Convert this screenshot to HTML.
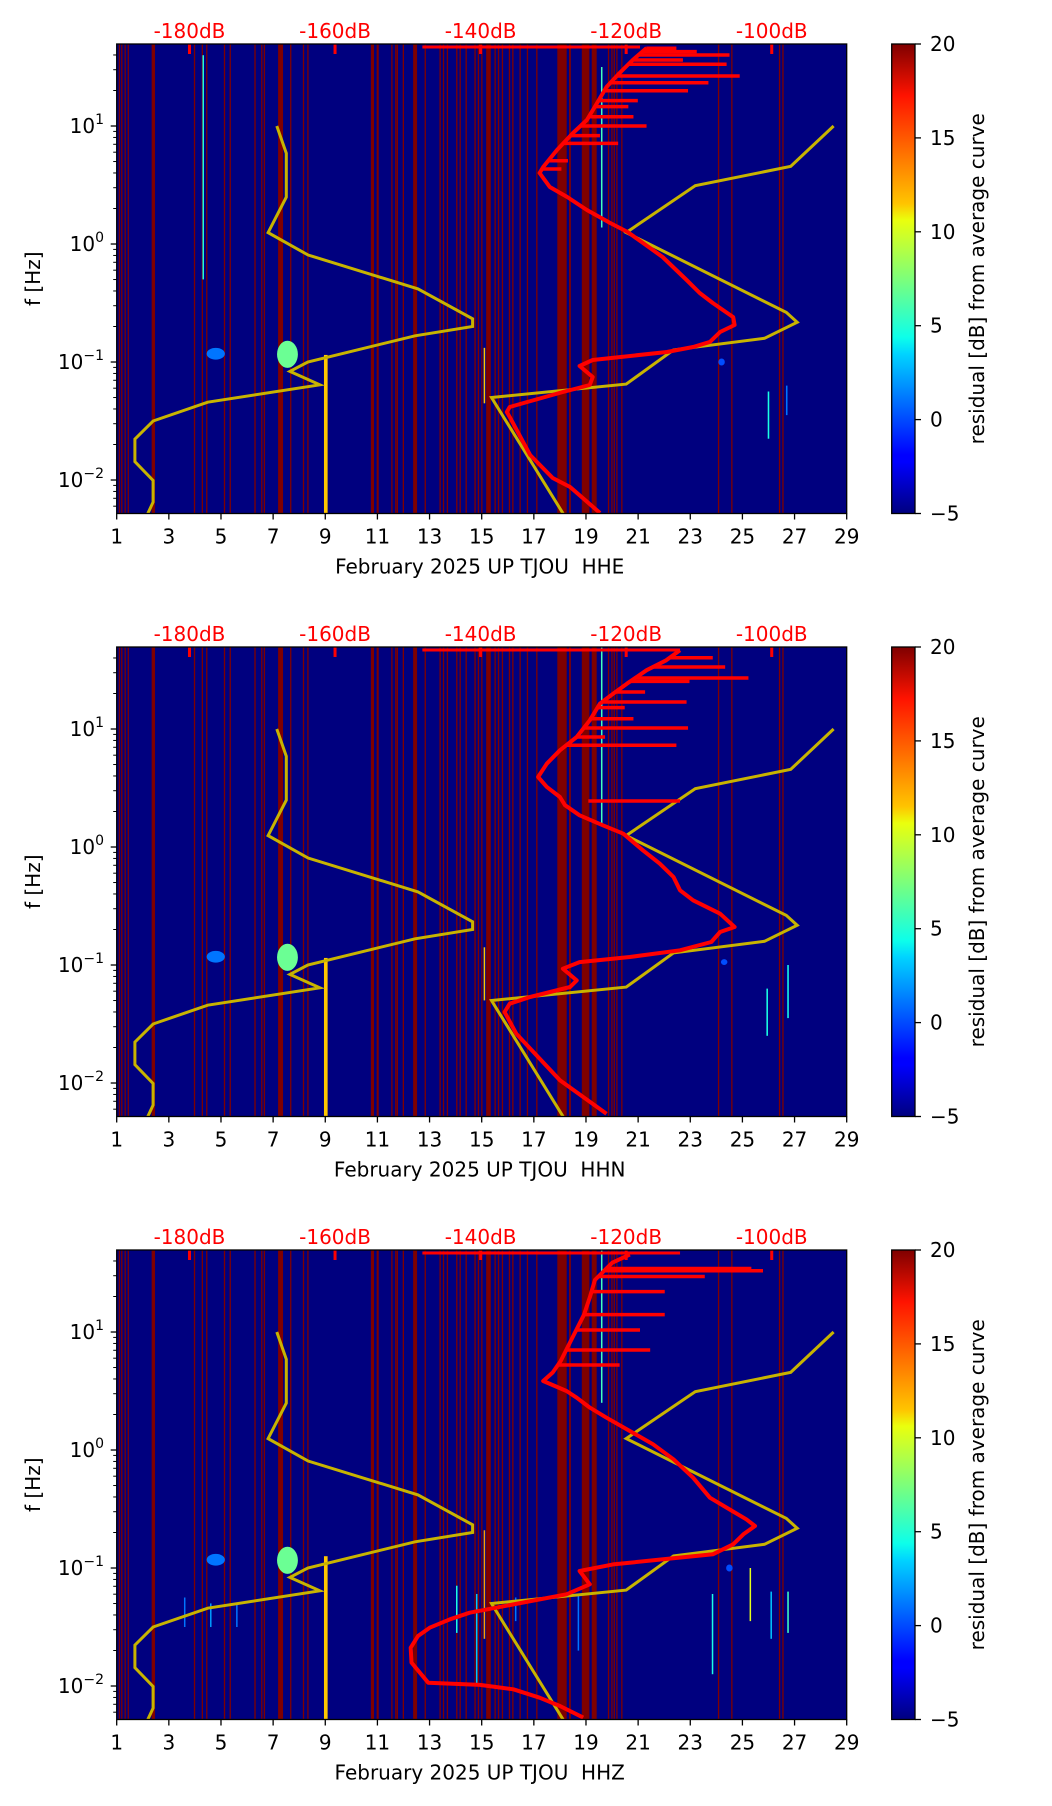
<!DOCTYPE html>
<html>
<head>
<meta charset="utf-8">
<style>
  html,body{margin:0;padding:0;background:#fff;}
  svg{display:block;font-family:"DejaVu Sans","Liberation Sans",sans-serif;}
</style>
</head>
<body>
<svg id="fig" width="1052" height="1806" viewBox="0 0 1052 1806" xmlns="http://www.w3.org/2000/svg">
  <defs>
    <linearGradient id="jet" x1="0" y1="1" x2="0" y2="0">
      <stop offset="0" stop-color="#00007f"/>
      <stop offset="0.11" stop-color="#0000ff"/>
      <stop offset="0.125" stop-color="#0000ff"/>
      <stop offset="0.34" stop-color="#00d4ff"/>
      <stop offset="0.375" stop-color="#0dffea"/>
      <stop offset="0.5" stop-color="#7dff7a"/>
      <stop offset="0.625" stop-color="#eaff0d"/>
      <stop offset="0.66" stop-color="#ffc400"/>
      <stop offset="0.89" stop-color="#ff1300"/>
      <stop offset="1" stop-color="#7f0000"/>
    </linearGradient>
  </defs>
</svg>
<script>
// ---------- data ----------
const panelTitles = ["February 2025 UP TJOU \u00a0HHE", "February 2025 UP TJOU \u00a0HHN", "February 2025 UP TJOU \u00a0HHZ"];
const dayTicks = [1,3,5,7,9,11,13,15,17,19,21,23,25,27,29];
const dbTicks = [-180,-160,-140,-120,-100];
const logfTicks = [1,0,-1,-2];
const cbarTicks = [20,15,10,5,0,-5];

const stripes = [[1.08,1.13],[1.17,1.22],[1.30,1.35],[1.42,1.47],[2.34,2.47],[3.96,4.01],[4.26,4.31],[4.43,4.48],
 [5.11,5.16],[5.33,5.38],[6.28,6.33],[6.54,6.59],[6.64,6.69],[7.19,7.38],[7.65,7.70],[8.14,8.19],[8.31,8.36],
 [10.75,10.87],[10.97,11.05],[11.53,11.58],[11.68,11.73],[11.74,11.79],[11.97,12.02],[12.37,12.52],[12.81,12.86],
 [13.38,13.43],[13.51,13.56],[13.66,13.71],[14.02,14.07],[14.15,14.20],[14.38,14.43],[14.72,14.77],[14.85,14.90],
 [14.98,15.03],[15.17,15.35],[15.49,15.54],[15.62,15.67],[15.77,15.82],[16.04,16.09],[16.17,16.22],[16.45,16.50],
 [16.73,16.78],[17.09,17.14],[17.90,18.26],[18.35,18.42],[18.84,19.13],[19.22,19.41],[19.84,19.89],[19.97,20.02],
 [20.06,20.11],[20.16,20.21],[20.35,20.40],[24.06,24.11],[24.57,24.62],[26.40,26.45],[26.53,26.58]];

const nlnmPeriod = [0.1,0.17,0.4,0.8,1.24,2.4,4.3,5.0,6.0,10,12,15.6,21.9,31.6,45,70,101,154,200];
const nlnmDb = [-168.0,-166.7,-166.7,-169.2,-163.7,-148.6,-141.1,-141.1,-149.0,-163.75,-166.2,-162.1,-177.5,-185.0,-187.5,-187.5,-185.0,-185.0,-185.85];
const nhnmPeriod = [0.1,0.22,0.32,0.8,3.8,4.6,6.3,7.9,15.4,20,200];
const nhnmDb = [-91.5,-97.4,-110.5,-120.0,-98.0,-96.5,-101.0,-113.5,-120.0,-138.5,-128.5];

const psdDb1 = [-117.2,-119.1,-120.9,-122.7,-124.0,-125.4,-127.3,-129.5,-131.4,-131.9,-130.5,-128.1,-125.4,-122.2,-119.8,-117.7,-115.0,-111.7,-109.9,-108.1,-105.3,-105.1,-107.1,-108.5,-110.8,-114.4,-120.9,-124.6,-126.4,-124.6,-125.0,-128.7,-133.6,-136.0,-136.4,-136.0,-133.2,-130.1,-127.7,-123.6];
const psdLf1 = [1.661,1.559,1.449,1.331,1.195,1.051,0.941,0.797,0.653,0.602,0.483,0.398,0.288,0.178,0.102,0.009,-0.110,-0.305,-0.415,-0.500,-0.619,-0.686,-0.746,-0.830,-0.873,-0.915,-0.958,-0.983,-1.034,-1.127,-1.195,-1.254,-1.339,-1.381,-1.424,-1.466,-1.788,-1.983,-2.059,-2.280];
const psdDb2 = [-112.6,-114.5,-117.2,-119.9,-121.8,-123.6,-125.0,-126.8,-129.1,-130.9,-132.1,-130.9,-129.1,-128.4,-126.4,-123.2,-120.4,-117.7,-115.4,-113.5,-112.6,-110.8,-107.1,-105.1,-107.1,-108.3,-112.6,-119.5,-126.4,-128.7,-126.8,-127.7,-133.2,-136.0,-136.7,-135.1,-129.1,-122.7];
const psdLf2 = [1.667,1.582,1.498,1.384,1.299,1.215,1.074,0.932,0.820,0.706,0.593,0.509,0.424,0.354,0.269,0.184,0.113,-0.028,-0.141,-0.254,-0.367,-0.452,-0.565,-0.678,-0.720,-0.805,-0.875,-0.932,-0.975,-1.031,-1.130,-1.186,-1.271,-1.328,-1.398,-1.582,-1.977,-2.260];
const psdDb3 = [-119.5,-121.9,-124.3,-125.0,-125.8,-127.4,-129.0,-130.1,-131.4,-128.2,-126.8,-125.0,-122.7,-119.5,-116.3,-113.5,-110.8,-108.5,-105.8,-103.5,-102.3,-103.9,-105.3,-108.1,-114.9,-121.8,-126.4,-125.0,-128.2,-135.5,-141.5,-144.2,-147.0,-148.6,-149.6,-149.5,-147.2,-140.1,-135.5,-131.9,-129.1,-125.9];
const psdLf3 = [1.656,1.587,1.441,1.293,1.147,0.950,0.754,0.657,0.585,0.500,0.443,0.359,0.274,0.161,0.048,-0.079,-0.235,-0.404,-0.503,-0.587,-0.644,-0.714,-0.799,-0.884,-0.926,-0.969,-1.025,-1.138,-1.223,-1.308,-1.379,-1.435,-1.506,-1.576,-1.675,-1.802,-1.972,-1.991,-2.028,-2.099,-2.169,-2.268];

const spikeDb1 = [-113.1,-110.3,-105.8,-112.2,-106.2,-104.4,-108.7,-111.5,-118.4,-119.7,-119.0,-117.2,-123.6,-121.1,-128.0,-128.9];
const spikeLf1 = [1.659,1.630,1.602,1.559,1.523,1.424,1.367,1.299,1.215,1.164,1.079,1.000,0.918,0.853,0.706,0.636];
const spikeDb2 = [-108.1,-106.4,-103.2,-111.3,-117.4,-111.7,-120.2,-119.0,-111.5,-122.9,-113.1,-125.2];
const spikeLf2 = [1.604,1.526,1.432,1.404,1.314,1.229,1.181,1.087,1.009,0.932,0.862,0.390];
const spikeDb3 = [-102.8,-101.2,-109.2,-114.7,-114.7,-118.1,-116.7,-120.9];
const spikeLf3 = [1.538,1.519,1.470,1.342,1.147,1.017,0.848,0.720];

const topLineStart = [-148,-148,-148];
const topLineEnd = [-118.1,-112.6,-112.6];

const featDay1 = [9.02,4.31,4.8,7.55,15.1,26.0,26.7,24.2,19.6];
const featW1   = [0.14,0.04,0.7,0.8,0.05,0.06,0.06,0.25,0.05];
const featTop1 = [-0.94,1.6,-0.88,-0.82,-0.88,-1.25,-1.2,-0.97,1.5];
const featBot1 = [-2.3,-0.3,-0.98,-1.05,-1.35,-1.65,-1.45,-1.03,0.14];
const featVal1 = [12,5,1,7,12,5,1,0,6];
const featDay2 = [9.02,4.8,7.55,15.1,25.95,26.75,19.6,24.3];
const featW2   = [0.14,0.7,0.8,0.05,0.06,0.06,0.05,0.25];
const featTop2 = [-0.94,-0.88,-0.82,-0.85,-1.2,-1.0,1.69,-0.95];
const featBot2 = [-2.3,-0.98,-1.05,-1.3,-1.6,-1.45,0.2,-1.0];
const featVal2 = [12,1,7,12,5,5,6,0];
const featDay3 = [9.02,4.8,7.55,15.1,14.04,14.8,16.3,18.7,19.6,23.85,25.3,26.1,26.75,3.6,4.6,5.6,24.5];
const featW3   = [0.14,0.7,0.8,0.05,0.05,0.04,0.05,0.04,0.05,0.05,0.05,0.05,0.06,0.04,0.04,0.04,0.25];
const featTop3 = [-0.9,-0.88,-0.82,-0.68,-1.15,-1.22,-1.25,-1.22,1.69,-1.22,-1.0,-1.2,-1.2,-1.25,-1.3,-1.3,-0.97];
const featBot3 = [-2.3,-0.98,-1.05,-1.6,-1.55,-2.0,-1.45,-1.7,0.4,-1.9,-1.45,-1.6,-1.55,-1.5,-1.5,-1.5,-1.03];
const featVal3 = [12,1,7,13,5,3,1,1,6,5,10,3,6,1,2,1,0];

// ---------- layout ----------
const svg = document.getElementById('fig');
const NS = 'http://www.w3.org/2000/svg';
const L = 116.7, R = 846.7, H = 469.5;
const tops = [44, 647, 1250];
const LF_TOP = 1.695, PX_DEC = 118;
const DB_MIN = -190, DB_SPAN = 100.3;
const CB_L = 891.7, CB_R = 915;
const xDay = d => L + (d - 1) * (R - L) / 28;
const xDb = db => L + (db - DB_MIN) * (R - L) / DB_SPAN;
const yF = (T, lf) => T + (LF_TOP - lf) * PX_DEC;

function mk(tag, attrs, parent) {
  const el = document.createElementNS(NS, tag);
  for (const k in attrs) el.setAttribute(k, attrs[k]);
  (parent || svg).appendChild(el);
  return el;
}
function jet(v) {
  const t = Math.max(0, Math.min(1, (v + 5) / 25));
  const c = (x) => Math.max(0, Math.min(1, x));
  const r = c(1.5 - Math.abs(4 * t - 3));
  const g = c(1.5 - Math.abs(4 * t - 2));
  const b = c(1.5 - Math.abs(4 * t - 1));
  return `rgb(${Math.round(r*255)},${Math.round(g*255)},${Math.round(b*255)})`;
}

const psdDbs = [psdDb1, psdDb2, psdDb3], psdLfs = [psdLf1, psdLf2, psdLf3];
const spDbs = [spikeDb1, spikeDb2, spikeDb3], spLfs = [spikeLf1, spikeLf2, spikeLf3];
const fDays = [featDay1, featDay2, featDay3], fWs = [featW1, featW2, featW3];
const fTops = [featTop1, featTop2, featTop3], fBots = [featBot1, featBot2, featBot3], fVals = [featVal1, featVal2, featVal3];

tops.forEach((T, p) => {
  const g = mk('g', {});
  
  

  const cp = mk('clipPath', { id: 'clip' + p });
  mk('rect', { x: L, y: T, width: R - L, height: H }, cp);

  const bg = mk('rect', { x: L, y: T, width: R - L, height: H, fill: '#00007f' }, g);
  
  

  const plot = mk('g', { 'clip-path': `url(#clip${p})` }, g);
  
  

  stripes.forEach(s => {
    const r = mk('rect', { x: xDay(s[0]), y: T, width: Math.max(1.2, xDay(s[1]) - xDay(s[0])), height: H, fill: '#7f0000' }, plot);
    
    
  });

  const fd = fDays[p];
  for (let i = 0; i < fd.length; i++) {
    const x0 = xDay(fd[i] - fWs[p][i] / 2), w = Math.max(1.5, xDay(fd[i] + fWs[p][i] / 2) - x0);
    const y0 = yF(T, fTops[p][i]), y1 = yF(T, fBots[p][i]);
    let e;
    if (fWs[p][i] < 0.2) {
      e = mk('rect', { x: x0, y: y0, width: w, height: y1 - y0, fill: jet(fVals[p][i]) }, plot);
    } else {
      e = mk('ellipse', { cx: x0 + w / 2, cy: (y0 + y1) / 2, rx: w / 2, ry: (y1 - y0) / 2, fill: jet(fVals[p][i]) }, plot);
    }
    
    
  }

  dbTicks.forEach(db => {
    const m = mk('rect', { x: xDb(db) - 1.5, y: T, width: 3, height: 10, fill: '#ff0000' }, plot);
    
    
  });

  const lnm = nlnmPeriod.map((P, i) => `${xDb(nlnmDb[i]).toFixed(1)},${yF(T, -Math.log10(P)).toFixed(1)}`).join(' ');
  const l1 = mk('polyline', { points: lnm, fill: 'none', stroke: '#c8b400', 'stroke-width': 3 }, plot);
  
  
  const hnm = nhnmPeriod.map((P, i) => `${xDb(nhnmDb[i]).toFixed(1)},${yF(T, -Math.log10(P)).toFixed(1)}`).join(' ');
  const l2 = mk('polyline', { points: hnm, fill: 'none', stroke: '#c8b400', 'stroke-width': 3 }, plot);
  
  

  const tl = mk('line', { x1: xDb(topLineStart[p]), x2: xDb(topLineEnd[p]), y1: T + 3, y2: T + 3, stroke: '#ff0000', 'stroke-width': 3 }, plot);
  
  

  const cdb = psdDbs[p], clf = psdLfs[p];
  function startDb(lf) {
    for (let i = 0; i < 9 && i < clf.length - 1; i++) {
      if (lf <= clf[i] && lf >= clf[i + 1]) {
        const t = (lf - clf[i]) / (clf[i + 1] - clf[i]);
        return cdb[i] + t * (cdb[i + 1] - cdb[i]);
      }
    }
    return cdb[0];
  }
  spDbs[p].forEach((db, i) => {
    const lf = spLfs[p][i];
    const y = yF(T, lf);
    const s = mk('line', { x1: xDb(startDb(lf)), x2: xDb(db), y1: y, y2: y, stroke: '#ff0000', 'stroke-width': 3.5 }, plot);
    
    
  });

  const pts = cdb.map((db, i) => `${xDb(db).toFixed(1)},${yF(T, clf[i]).toFixed(1)}`).join(' ');
  const pc = mk('polyline', { points: pts, fill: 'none', stroke: '#ff0000', 'stroke-width': 4, 'stroke-linejoin': 'round' }, plot);
  
  

  const fr = mk('rect', { x: L, y: T, width: R - L, height: H, fill: 'none', stroke: '#000', 'stroke-width': 1.3 }, g);
  
  

  const xt = mk('g', {}, g);
  
  
  dayTicks.forEach(d => {
    const x = xDay(d);
    mk('line', { x1: x, x2: x, y1: T + H, y2: T + H + 6, stroke: '#000', 'stroke-width': 1.3 }, xt);
    const t = mk('text', { x: x, y: T + H + 30, 'font-size': 20, 'text-anchor': 'middle', fill: '#000' }, xt);
    t.textContent = d;
    
    
  });
  const xl = mk('text', { x: (L + R) / 2 - 2, y: T + H + 60, 'font-size': 20, 'text-anchor': 'middle', fill: '#000' }, g);
  xl.textContent = panelTitles[p];
  
  

  dbTicks.forEach(db => {
    const t = mk('text', { x: xDb(db), y: T - 6, 'font-size': 20, 'text-anchor': 'middle', fill: '#ff0000' }, g);
    t.textContent = db + 'dB';
    
    
  });

  const yt = mk('g', {}, g);
  
  
  for (let dec = -3; dec <= 1; dec++) {
    for (let m = 1; m <= 9; m++) {
      const lf = dec + Math.log10(m);
      if (lf > LF_TOP + 1e-6 || lf < LF_TOP - H / PX_DEC - 1e-6) continue;
      const y = yF(T, lf);
      mk('line', { x1: L - (m === 1 ? 6 : 3.5), x2: L, y1: y, y2: y, stroke: '#000', 'stroke-width': m === 1 ? 1.3 : 1 }, yt);
    }
  }
  logfTicks.forEach(lf => {
    const y = yF(T, lf);
    const t = mk('text', { x: 104, y: y + 7, 'font-size': 20, 'text-anchor': 'end', fill: '#000' }, yt);
    const sup = lf < 0 ? '\u2212' + Math.abs(lf) : String(lf);
    t.innerHTML = `10<tspan dy="-9" font-size="14">${sup}</tspan>`;
    
    
  });
  const yl = mk('text', { x: 0, y: 0, 'font-size': 20, 'text-anchor': 'middle', fill: '#000', transform: `translate(40,${T + H / 2}) rotate(-90)` }, g);
  yl.textContent = 'f [Hz]';
  
  

  const cb = mk('g', {}, g);
  
  
  mk('rect', { x: CB_L, y: T, width: CB_R - CB_L, height: H, fill: 'url(#jet)', stroke: '#000', 'stroke-width': 1.3 }, cb);
  cbarTicks.forEach(v => {
    const y = T + H - (v + 5) / 25 * H;
    mk('line', { x1: CB_R, x2: CB_R + 6, y1: y, y2: y, stroke: '#000', 'stroke-width': 1.3 }, cb);
    const t = mk('text', { x: CB_R + 15, y: y + 7, 'font-size': 20, fill: '#000' }, cb);
    t.textContent = v < 0 ? '\u2212' + Math.abs(v) : v;
    
    
  });
  const cl = mk('text', { x: 0, y: 0, 'font-size': 20, 'text-anchor': 'middle', fill: '#000', transform: `translate(984,${T + H / 2}) rotate(-90)` }, cb);
  cl.textContent = 'residual [dB] from average curve';
  
  
});
</script>
</body>
</html>
